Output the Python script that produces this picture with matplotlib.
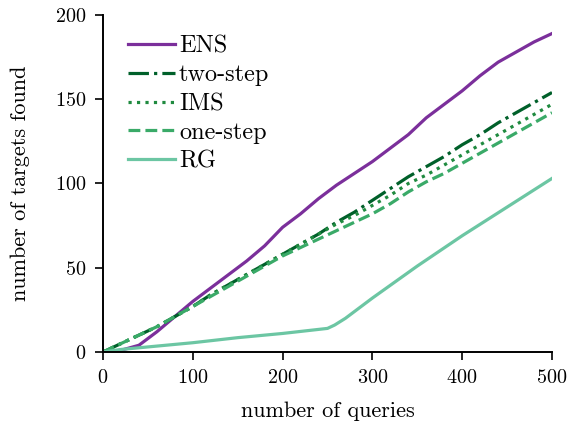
import matplotlib
matplotlib.use("Agg")
import matplotlib.pyplot as plt

plt.rcParams['font.family'] = ['cmr10', 'DejaVu Serif']
plt.rcParams['axes.formatter.use_mathtext'] = True
plt.rcParams['mathtext.fontset'] = 'cm'

# number of queries
queries = [0, 20, 40, 60, 80, 100, 120, 140, 160, 180, 200, 220, 240, 260,
           280, 300, 320, 340, 360, 380, 400, 420, 440, 460, 480, 500]

ens = [0, 1, 4, 12, 21, 30, 38, 46, 54, 63, 74, 82, 91, 99,
       106, 113, 121, 129, 139, 147, 155, 164, 172, 178, 184, 189]
two_step = [0, 5, 10, 15, 21, 27, 34, 40, 46, 52, 58, 64, 70, 77,
            83, 90, 97, 104, 110, 116, 123, 129, 136, 142, 148, 154]
ims = [0, 5, 10, 15, 21, 27, 34, 40, 46, 52, 58, 64, 70, 76,
       81, 87, 93, 100, 105, 111, 117, 123, 129, 135, 141, 147]
one_step = [0, 5, 10, 15, 21, 27, 33, 39, 45, 51, 57, 62, 67, 72,
            77, 82, 88, 95, 101, 106, 112, 118, 124, 130, 136, 142]

rg_queries = [0, 20, 50, 100, 150, 200, 250, 258, 270, 300, 350, 400, 450, 500]
rg = [0, 1.5, 3, 5.5, 8.5, 11, 14, 16, 20, 32, 51, 69, 86, 103]

fig = plt.figure(figsize=(5.7, 4.25), dpi=100)
ax = fig.add_axes([0.1807, 0.1718, 0.7877, 0.7929])

lw = 2.3
ax.plot(queries, ens, color='#7b2f9b', lw=lw, label='ENS')
ax.plot(queries, two_step, color='#00602a', lw=lw, ls='-.', label='two-step')
ax.plot(queries, ims, color='#1f8a3f', lw=lw, ls=':', label='IMS')
ax.plot(queries, one_step, color='#3aaa68', lw=lw, ls='--', label='one-step')
ax.plot(rg_queries, rg, color='#6cc6a3', lw=lw, label='RG')

ax.set_xlim(0, 500)
ax.set_ylim(0, 200)
ax.set_xticks([0, 100, 200, 300, 400, 500])
ax.set_yticks([0, 50, 100, 150, 200])
ax.set_xlabel('number of queries', fontsize=16, labelpad=11)
ax.set_ylabel('number of targets found', fontsize=16, labelpad=18)

for side in ['top', 'right']:
    ax.spines[side].set_visible(False)
for side in ['left', 'bottom']:
    ax.spines[side].set_linewidth(1.4)
ax.tick_params(direction='out', length=6, width=1.2, labelsize=14.5, pad=6)

ax.legend(loc='upper left', frameon=False, fontsize=17.5, handlelength=1.9,
          handletextpad=0.18, labelspacing=0.27, borderaxespad=0,
          bbox_to_anchor=(0.035, 0.968))

fig.savefig('out.png', dpi=100)
